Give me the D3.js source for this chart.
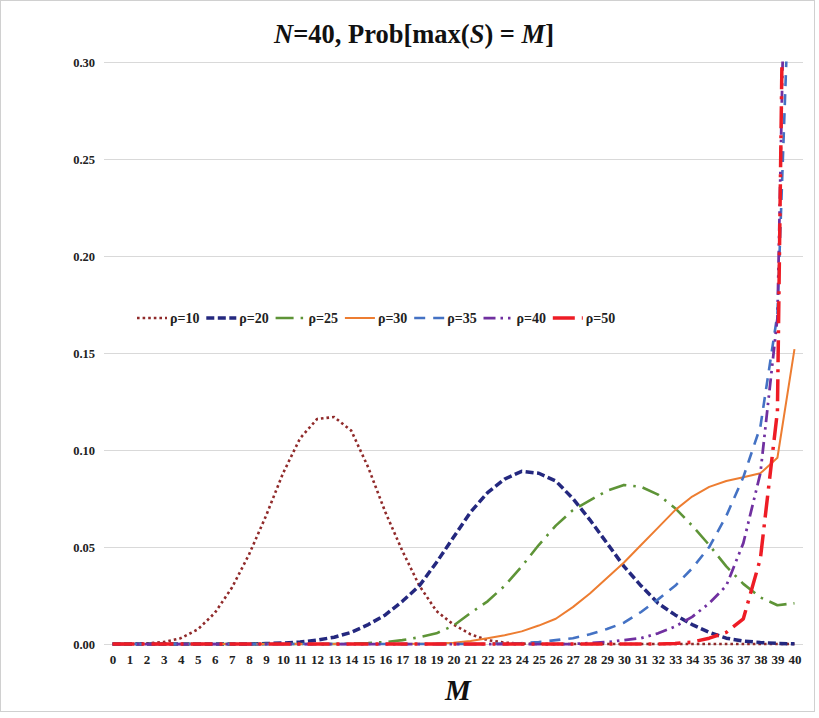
<!DOCTYPE html>
<html><head><meta charset="utf-8">
<script src="https://cdn.jsdelivr.net/npm/d3@7"></script>
<style>body{margin:0;background:#fff;} svg{display:block;}</style>
</head><body>
<svg id="c" width="819" height="718"></svg>
<script>
// ---- data ----
const categories = [0,1,2,3,4,5,6,7,8,9,10,11,12,13,14,15,16,17,18,19,20,21,22,23,24,25,26,27,28,29,30,31,32,33,34,35,36,37,38,39,40];
const yTicks = [0, 0.05, 0.10, 0.15, 0.20, 0.25, 0.30];
const seriesNames = ["ρ=10","ρ=20","ρ=25","ρ=30","ρ=35","ρ=40","ρ=50"];
const rho10 = [0,0,0.0003,0.001,0.003,0.0075,0.016,0.029,0.046,0.066,0.088,0.106,0.116,0.117,0.110,0.091,0.068,0.048,0.030,0.017,0.010,0.005,0.002,0.0007,0.0002,0,0,0,0,0,0,0,0,0,0,0,0,0,0,0,0];
const rho20 = [0,0,0,0,0,0,0,0,0,0.0002,0.0005,0.001,0.002,0.0035,0.006,0.010,0.015,0.022,0.030,0.042,0.055,0.068,0.078,0.085,0.089,0.088,0.084,0.075,0.064,0.052,0.040,0.030,0.021,0.015,0.010,0.006,0.003,0.0015,0.0008,0.0003,0.0001];
const rho25 = [0,0,0,0,0,0,0,0,0,0,0,0,0,0,0.0002,0.0005,0.001,0.002,0.0035,0.0055,0.0095,0.016,0.022,0.030,0.040,0.051,0.061,0.069,0.074,0.079,0.082,0.081,0.077,0.070,0.061,0.051,0.040,0.031,0.024,0.020,0.021];
const rho30 = [0,0,0,0,0,0,0,0,0,0,0,0,0,0,0,0,0,0,0.0001,0.0003,0.0007,0.0015,0.003,0.0045,0.0065,0.0095,0.013,0.019,0.026,0.034,0.042,0.051,0.060,0.069,0.076,0.081,0.084,0.086,0.088,0.096,0.152];
const rho35 = [0,0,0,0,0,0,0,0,0,0,0,0,0,0,0,0,0,0,0,0,0,0,0,0.0002,0.0005,0.001,0.002,0.003,0.005,0.0077,0.011,0.0165,0.023,0.030,0.039,0.050,0.066,0.086,0.112,0.170,0.42];
const rho40 = [0,0,0,0,0,0,0,0,0,0,0,0,0,0,0,0,0,0,0,0,0,0,0,0,0,0,0,0,0.0005,0.001,0.002,0.003,0.0055,0.009,0.014,0.021,0.030,0.052,0.088,0.168,0.60];
const rho50 = [0,0,0,0,0,0,0,0,0,0,0,0,0,0,0,0,0,0,0,0,0,0,0,0,0,0,0,0,0,0,0,0,0,0.0003,0.001,0.003,0.006,0.013,0.044,0.12,0.80];

const seriesValues = [rho10, rho20, rho25, rho30, rho35, rho40, rho50];
const styles = [
  {color:"#902a2a", width:2.6, dash:"2.6,3"},
  {color:"#24287f", width:3.5, dash:"8,3.5"},
  {color:"#5e9437", width:2.6, dash:"18,7,2.5,7"},
  {color:"#ed7d31", width:2,   dash:null},
  {color:"#4472c4", width:2.6, dash:"11,8"},
  {color:"#7030a0", width:2.75, dash:"12,5,2.5,5,2.5,5"},
  {color:"#ee1c25", width:3.5, dash:"22,7,3,7"}
];

const serif = "'Liberation Serif','Times New Roman',serif";
const svg = d3.select("#c");

// chart border
svg.append("rect").attr("x",0.5).attr("y",0.5).attr("width",814).attr("height",711)
  .attr("fill","#fff").attr("stroke","#d0d0d0");

const x = d3.scalePoint().domain(categories).range([104, 803]).padding(0.5);
const y = d3.scaleLinear().domain([0, 0.30]).range([644, 62]);

// y gridlines + labels
const ya = svg.append("g").attr("transform","translate(104,0)")
  .call(d3.axisLeft(y).tickValues(yTicks).tickFormat(d3.format(".2f")).tickSize(-699).tickPadding(9));
ya.select(".domain").remove();
ya.selectAll(".tick line").attr("stroke","#d9d9d9").attr("stroke-width",1);
ya.selectAll("text").attr("font-family",serif).attr("font-weight","bold").attr("font-size","12.5px").attr("fill","#222");

// x labels
const xa = svg.append("g").attr("transform","translate(0,644)")
  .call(d3.axisBottom(x).tickSize(0).tickPadding(11));
xa.select(".domain").remove();
xa.selectAll("text").attr("font-family",serif).attr("font-weight","bold").attr("font-size","13px").attr("fill","#222");

// clip
svg.append("clipPath").attr("id","plotclip").append("rect")
  .attr("x",100).attr("y",61.5).attr("width",710).attr("height",592);

const line = d3.line().x((d,i)=>x(categories[i])).y(d=>y(d)).curve(d3.curveLinear);
const lg = svg.append("g").attr("clip-path","url(#plotclip)");
seriesValues.forEach((vals,k)=>{
  const s = styles[k];
  lg.append("path").datum(vals).attr("d",line)
    .attr("fill","none").attr("stroke",s.color).attr("stroke-width",s.width)
    .attr("stroke-dasharray",s.dash).attr("stroke-linejoin","round");
});

// legend
const legend = svg.append("g");
seriesNames.forEach((name,k)=>{
  const s = styles[k];
  const x0 = 137 + k*69.3;
  legend.append("line").attr("x1",x0).attr("x2",x0+30).attr("y1",318).attr("y2",318)
    .attr("stroke",s.color).attr("stroke-width",s.width).attr("stroke-dasharray",s.dash);
  legend.append("text").attr("x",x0+33).attr("y",323).text(name)
    .attr("font-family",serif).attr("font-weight","bold").attr("font-size","14px").attr("fill","#222");
});

// title
const t = svg.append("text").attr("x",414).attr("y",43).attr("text-anchor","middle")
  .attr("font-family",serif).attr("font-weight","bold").attr("font-size","26.5px").attr("fill","#111");
t.append("tspan").attr("font-style","italic").text("N");
t.append("tspan").text("=40, Prob[max(");
t.append("tspan").attr("font-style","italic").text("S");
t.append("tspan").text(") = ");
t.append("tspan").attr("font-style","italic").text("M");
t.append("tspan").text("]");

// x axis title
svg.append("text").attr("x",458).attr("y",700).attr("text-anchor","middle")
  .attr("font-family",serif).attr("font-weight","bold").attr("font-style","italic")
  .attr("font-size","29px").attr("fill","#111").text("M");
</script>
</body></html>
